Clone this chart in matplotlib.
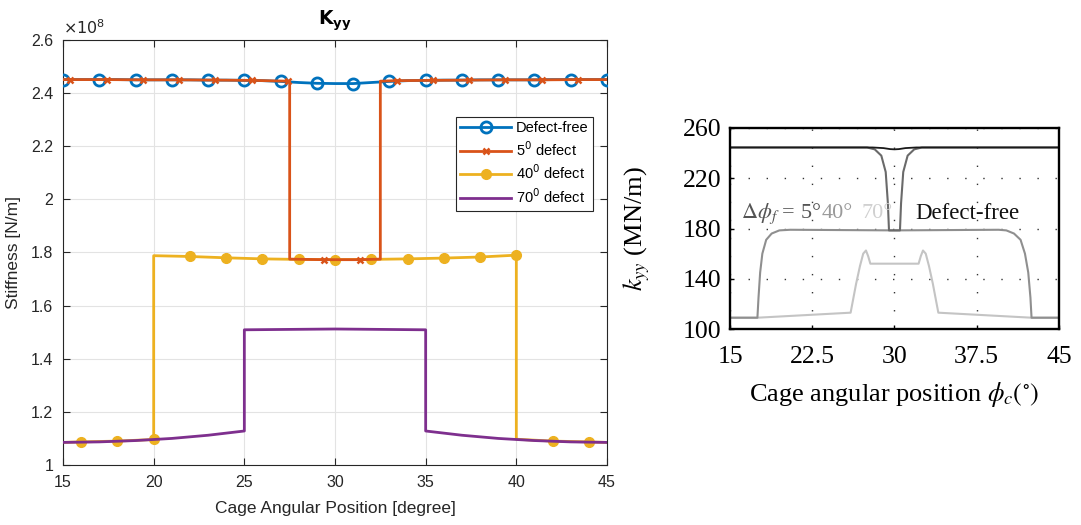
"""
Kyy stiffness vs cage angular position: own model (left) and reference result (right).
"""

import matplotlib

matplotlib.use("Agg")
import matplotlib.pyplot as plt
from matplotlib.ticker import FuncFormatter

# ---- left panel: stiffness in units of 1e8 N/m ----
x_free = [15, 16, 17, 18, 19, 20, 21, 22, 23, 24, 25, 26, 27, 28, 29, 30,
          31, 32, 33, 34, 35, 36, 37, 38, 39, 40, 41, 42, 43, 44, 45]
y_free = [2.451, 2.451, 2.451, 2.451, 2.450, 2.450, 2.450, 2.450, 2.449, 2.449,
          2.448, 2.447, 2.444, 2.440, 2.437, 2.436, 2.436, 2.440, 2.444, 2.447,
          2.448, 2.449, 2.449, 2.450, 2.450, 2.450, 2.450, 2.451, 2.451, 2.451,
          2.451]

x_5 = [15, 15.4, 17.4, 19.4, 21.4, 23.4, 25.4, 27.4, 27.5, 27.5, 29.4, 31.4,
       32.5, 32.5, 33.4, 35.4, 37.4, 39.4, 41.4, 43.4, 45]
y_5 = [2.451, 2.451, 2.451, 2.450, 2.450, 2.449, 2.448, 2.445, 2.445, 1.775,
       1.773, 1.773, 1.775, 2.445, 2.447, 2.448, 2.449, 2.450, 2.450, 2.451,
       2.451]
marks_5 = [1, 2, 3, 4, 5, 6, 7, 10, 11, 14, 15, 16, 17, 18, 19]

x_40 = [15, 16, 18, 20, 20, 22, 24, 26, 28, 30, 32, 34, 36, 38, 40, 40, 42,
        44, 45]
y_40 = [1.085, 1.087, 1.090, 1.096, 1.788, 1.785, 1.780, 1.776, 1.774, 1.773,
        1.774, 1.776, 1.779, 1.783, 1.790, 1.097, 1.090, 1.087, 1.085]
marks_40 = [1, 2, 3, 5, 6, 7, 8, 9, 10, 11, 12, 13, 14, 16, 17]

x_70 = [15, 17, 19, 21, 23, 25, 25, 30, 35, 35, 37, 39, 41, 43, 45]
y_70 = [1.085, 1.087, 1.092, 1.100, 1.112, 1.128, 1.509, 1.512, 1.509, 1.128,
        1.112, 1.100, 1.092, 1.087, 1.085]

# ---- right panel: reference curves in MN/m ----
rx_free = [15, 28, 29, 29.6, 30, 30.4, 31, 32, 45]
ry_free = [244.5, 244.5, 244.0, 243.2, 243.0, 243.2, 244.0, 244.5, 244.5]

rx_5 = [15, 27.5, 28.2, 28.8, 29.2, 29.4, 29.5, 30.5, 30.6, 30.8, 31.2, 31.8,
        32.5, 45]
ry_5 = [244.5, 244.5, 243, 238, 225, 200, 178.5, 178.5, 200, 225, 238, 243,
        244.5, 244.5]

rx_40 = [15, 17.5, 17.6, 17.75, 17.95, 18.3, 18.8, 19.5, 20.5, 30, 39.5,
         40.2, 40.9, 41.5, 41.9, 42.2, 42.4, 42.5, 45]
ry_40 = [109, 109, 125, 145, 160, 171, 176, 178.5, 179, 178.5, 179, 178.5,
         176, 171, 160, 145, 125, 109, 109]

rx_70 = [15, 17.5, 26.0, 26.5, 26.85, 27.15, 27.4, 27.6, 27.8, 30, 32.2,
         32.4, 32.6, 32.85, 33.15, 33.5, 34.0, 42.5, 45]
ry_70 = [109, 109, 113, 136, 150, 160, 162.5, 158, 152, 152, 152, 158, 162.5,
         160, 150, 136, 113, 109, 109]

x_ticks_left = [15, 20, 25, 30, 35, 40, 45]
y_ticks_left = [1, 1.2, 1.4, 1.6, 1.8, 2, 2.2, 2.4, 2.6]
x_ticks_right = [15, 22.5, 30, 37.5, 45]
y_ticks_right = [100, 140, 180, 220, 260]

BLUE, ORANGE, YELLOW, PURPLE = "#0072BD", "#D95319", "#EDB120", "#7E2F8E"
INK = "#262626"
SANS = ["Liberation Sans", "DejaVu Sans"]
SERIF = ["Liberation Serif", "DejaVu Serif"]


def _left_panel(ax):
    ax.plot(x_free, y_free, color=BLUE, lw=2.0, marker="o", ms=8, mew=2.0,
            mfc="none", markevery=2, label="Defect-free", zorder=3)
    ax.plot(x_5, y_5, color=ORANGE, lw=2.0, marker="x", ms=5, mew=1.8,
            markevery=marks_5, label="5$^0$ defect", zorder=4)
    ax.plot(x_40, y_40, color=YELLOW, lw=2.0, marker="o", ms=7,
            markevery=marks_40, label="40$^0$ defect", zorder=2)
    ax.plot(x_70, y_70, color=PURPLE, lw=2.0, label="70$^0$ defect", zorder=3)

    ax.set_xlim(15, 45)
    ax.set_ylim(1, 2.6)
    ax.set_xticks(x_ticks_left)
    ax.set_yticks(y_ticks_left)
    ax.yaxis.set_major_formatter(FuncFormatter(lambda v, _: f"{v:g}"))
    ax.grid(True, color="#e3e3e3", lw=0.8)
    ax.set_axisbelow(True)
    ax.tick_params(direction="in", length=5, top=True, right=True,
                   labelsize=11.5, colors=INK, labelcolor=INK, pad=7)
    for spine in ax.spines.values():
        spine.set_color(INK)
        spine.set_linewidth(0.8)
    for lab in ax.get_xticklabels() + ax.get_yticklabels():
        lab.set_family(SANS)

    ax.set_xlabel("Cage Angular Position [degree]", family=SANS, fontsize=12.5,
                  color=INK, labelpad=8)
    ax.set_ylabel("Stiffness [N/m]", family=SANS, fontsize=12.5,
                  color=INK, labelpad=7)
    ax.set_title(r"$\mathbf{K_{yy}}$", fontsize=13.5, pad=11)
    ax.text(0.0, 1.008, r"$\times10^{8}$", transform=ax.transAxes,
            fontsize=11.5, color=INK, va="bottom", ha="left")

    leg = ax.legend(loc="upper left", bbox_to_anchor=(0.722, 0.82),
                    prop={"family": SANS, "size": 10.5}, frameon=True,
                    fancybox=False, edgecolor=INK, framealpha=1,
                    borderpad=0.3, labelspacing=0.35, handlelength=3.5,
                    handletextpad=0.3, borderaxespad=0)
    leg.get_frame().set_linewidth(0.8)


def _right_panel(ax):
    ax.plot(rx_70, ry_70, color="#c4c4c4", lw=1.5)
    ax.plot(rx_40, ry_40, color="#8f8f8f", lw=1.5)
    ax.plot(rx_5, ry_5, color="#6a6a6a", lw=1.5)
    ax.plot(rx_free, ry_free, color="#1a1a1a", lw=1.3)

    ax.set_xlim(15, 45)
    ax.set_ylim(100, 260)
    ax.set_xticks(x_ticks_right)
    ax.set_yticks(y_ticks_right)
    ax.set_xticklabels([f"{v:g}" for v in x_ticks_right], family=SERIF,
                       fontsize=18.5)
    ax.set_yticklabels([f"{v:g}" for v in y_ticks_right], family=SERIF,
                       fontsize=18.5)
    ax.grid(True, color="#333333", lw=1.0, ls=(0, (1, 12)))
    ax.tick_params(axis="x", direction="in", length=3, width=1, pad=12)
    ax.tick_params(axis="y", direction="in", length=3, width=1, pad=6)
    for spine in ax.spines.values():
        spine.set_linewidth(1.7)

    ax.set_xlabel(r"Cage angular position $\phi_c(^{\circ})$", family=SERIF,
                  fontsize=19, math_fontfamily="stix", labelpad=9)
    ax.set_ylabel(r"$k_{yy}$ (MN/m)", family=SERIF, fontsize=19,
                  math_fontfamily="stix", labelpad=22)

    ax.text(16.0, 192, r"$\Delta\phi_f$ = 5°", family=SERIF, fontsize=16,
            math_fontfamily="stix", color="#555555", va="center")
    ax.text(23.4, 192, "40°", family=SERIF, fontsize=16, color="#9a9a9a",
            va="center")
    ax.text(27.0, 192, "70°", family=SERIF, fontsize=16, color="#d0d0d0",
            va="center")
    ax.text(31.9, 192, "Defect-free", family=SERIF, fontsize=16.5,
            color="#111111", va="center")


def main() -> None:
    fig = plt.figure(figsize=(10.81, 5.25), dpi=100)
    ax_left = fig.add_axes([0.0583, 0.1143, 0.5032, 0.8095])
    ax_right = fig.add_axes([0.6753, 0.3733, 0.3043, 0.3829])
    _left_panel(ax_left)
    _right_panel(ax_right)
    fig.savefig("out.png", dpi=100)


if __name__ == "__main__":
    main()
